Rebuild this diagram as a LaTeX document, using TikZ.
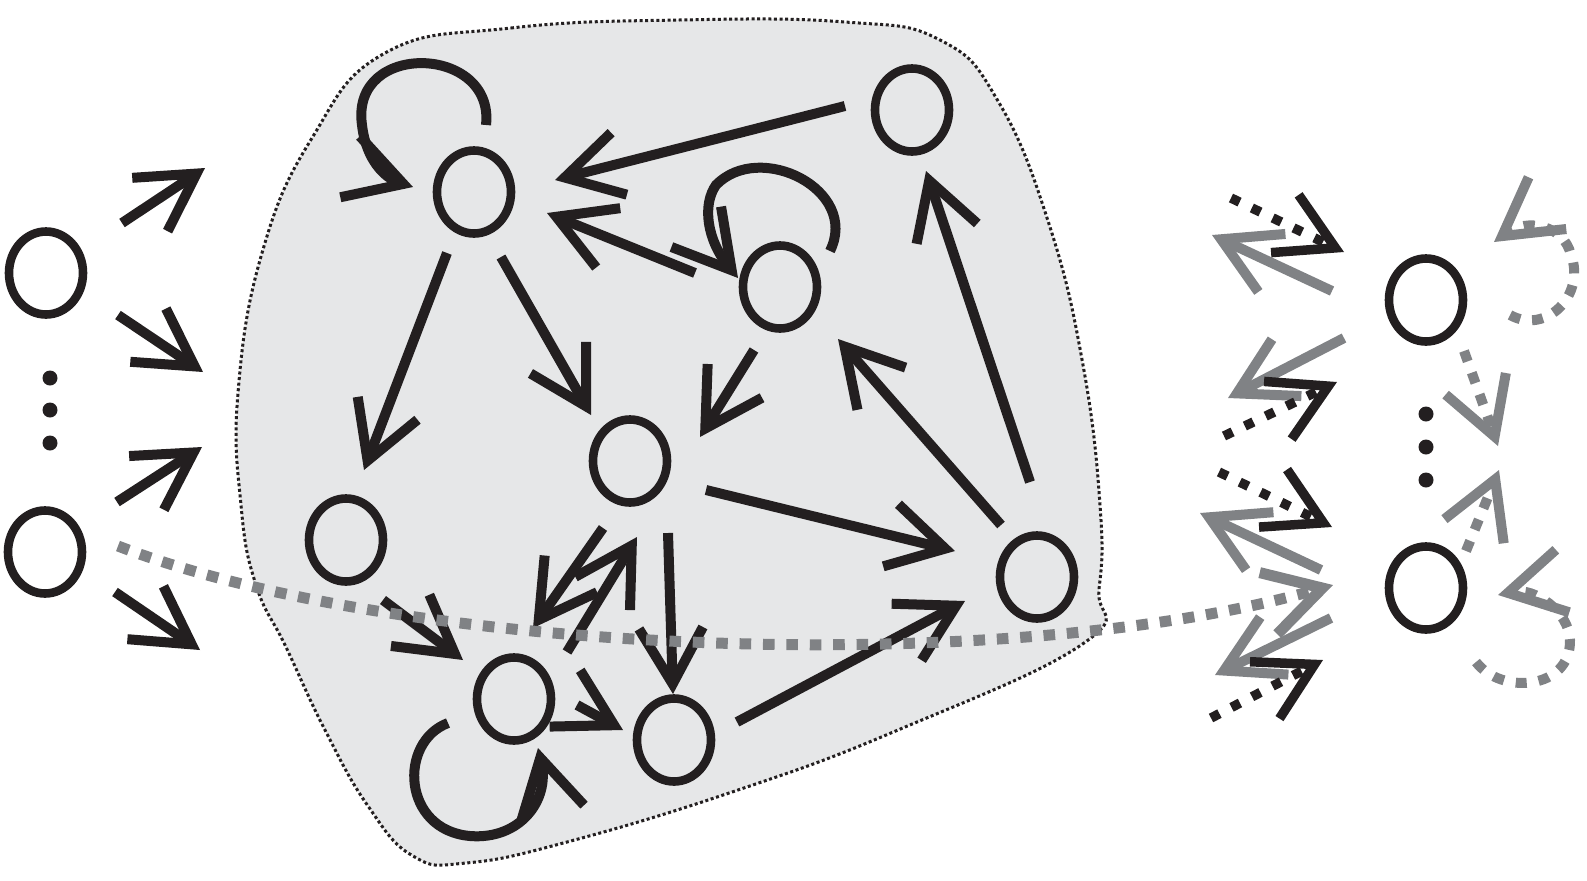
\documentclass[tikz,border=0pt]{standalone}
\usetikzlibrary{arrows.meta,calc,shapes.geometric}
\definecolor{ink}{HTML}{231F20}
\definecolor{mid}{HTML}{808285}
\definecolor{blobfill}{HTML}{E6E7E8}
\begin{document}
\begin{tikzpicture}[x=0.5pt,y=-0.5pt,
  circ/.style={draw=ink, line width=4.3pt, ellipse, minimum width=37pt, minimum height=41.5pt, inner sep=0pt},
  arr/.style={draw=ink, line width=5pt, -{Straight Barb[length=28pt,width=32pt,line join=miter,line cap=butt]}},
  garr/.style={draw=mid, line width=5pt, -{Straight Barb[length=28pt,width=32pt,line join=miter,line cap=butt]}},
  bdot/.style={draw=ink, line width=4.75pt, dash pattern=on 4.75pt off 6.8pt, -{Straight Barb[length=28pt,width=32pt,line join=miter,line cap=butt]}},
  gdash/.style={draw=mid, line width=5pt, dash pattern=on 5.5pt off 6pt, -{Straight Barb[length=28pt,width=32pt,line join=miter,line cap=butt]}},
  glong/.style={draw=mid, line width=5.5pt, dash pattern=on 5.8pt off 5.9pt, -{Straight Barb[length=28pt,width=32pt,line join=miter,line cap=butt]}},
  dotfill/.style={fill=ink}
]
\useasboundingbox (0,0) rectangle (1587,880);

% region
\draw[ink, line width=1.5pt, dash pattern=on 1.5pt off 1.3pt, fill=blobfill]
  plot[smooth cycle, tension=0.75] coordinates {
  (385,53) (511,28) (679,20) (845,22) (940,40) (998,101) (1049,224) (1083,365)
  (1100,505) (1099,589) (1084,643) (898,730) (735,791) (567,842) (466,863)
  (413,856) (368,806) (325,730) (286,647) (256,585) (241,505) (238,393)
  (262,253) (312,138)};

% left nodes
\node[circ] (L1) at (46,273) {};
\node[circ] (L2) at (45,552) {};
\fill[dotfill] (50,378) circle[radius=3.75pt];
\fill[dotfill] (50,410) circle[radius=3.75pt];
\fill[dotfill] (50,443) circle[radius=3.75pt];

% left input arrows
\coordinate (a1s) at (122,223); \coordinate (a1e) at (205,168);
\coordinate (a2s) at (118,315); \coordinate (a2e) at (203,372);
\coordinate (a3s) at (117,502); \coordinate (a3e) at (202,447);
\coordinate (a4s) at (115,592); \coordinate (a4e) at (200,650);
\draw[arr] (a1s) -- (a1e);
\draw[arr] (a2s) -- (a2e);
\draw[arr] (a3s) -- (a3e);
\draw[arr] (a4s) -- (a4e);

% central nodes
\node[circ] (A) at (474,192) {};
\node[circ] (B) at (912,110) {};
\node[circ] (C) at (780,287) {};
\node[circ] (D) at (630,461) {};
\node[circ] (E) at (346,540) {};
\node[circ] (F) at (1037,577) {};
\node[circ] (G) at (514,699) {};
\node[circ] (H) at (674,740) {};

% central edges
\draw[arr] ($(B)+(-67,-4)$) -- ($(A)+(81,-12)$);
\draw[arr] ($(C)+(-85,-14)$) -- ($(A)+(73,21)$);
\draw[arr] ($(A)+(-27,61)$) -- ($(E)+(18,-70)$);
\draw[arr] ($(A)+(27,65)$) -- ($(D)+(-39,-46)$);
\draw[arr] ($(C)+(-26,63)$) -- ($(D)+(70,-24)$);
\draw[arr] ($(F)+(-7,-95)$) -- ($(B)+(14,61)$);
\draw[arr] ($(F)+(-36,-52)$) -- ($(C)+(58,52)$);
\draw[arr] ($(D)+(76,29)$) -- ($(F)+(-82,-26)$);
\draw[arr] ($(H)+(63,-18)$) -- ($(F)+(-72,24)$);
\draw[arr] ($(E)+(37,60)$) -- ($(G)+(-51,-39)$);
\draw[arr] ($(G)+(63,6)$) -- ($(H)+(-51,-10)$);
\draw[arr] ($(D)+(38,72)$) -- ($(H)+(-1,-46)$);
\draw[arr] ($(D)+(-27,67)$) -- ($(G)+(19,-71)$);
\draw[arr] ($(G)+(53,-47)$) -- ($(D)+(7,76)$);

% self loops
\draw[arr] ($(A)+(12,-67)$) .. controls (495,45) and (350,40) .. (362,125)
  .. controls (366,160) and (385,178) .. (413,187);
\draw[arr] ($(C)+(50,-36)$) .. controls (860,190) and (760,140) .. (716,185)
  .. controls (702,205) and (707,240) .. (738,278);
\draw[arr] ($(G)+(-66,24)$) .. controls (398,742) and (402,830) .. (470,836)
  .. controls (520,840) and (550,800) .. (538,748);

% right side
\begin{scope}[xshift=-2pt]
\node[circ] (R1) at (1430,300) {};
\node[circ] (R2) at (1430,588) {};
\fill[dotfill] (1430,414) circle[radius=3.75pt];
\fill[dotfill] (1430,447) circle[radius=3.75pt];
\fill[dotfill] (1430,480) circle[radius=3.75pt];

\coordinate (b1s) at (1235,198); \coordinate (b1e) at (1348,252);
\coordinate (b2s) at (1228,436); \coordinate (b2e) at (1341,382);
\coordinate (b3s) at (1223,472); \coordinate (b3e) at (1336,527);
\coordinate (b4s) at (1215,718); \coordinate (b4e) at (1327,660);
\coordinate (g1s) at (1336,291); \coordinate (g1e) at (1216,235);
\coordinate (g2s) at (1348,338); \coordinate (g2e) at (1232,398);
\coordinate (g3s) at (1325,570); \coordinate (g3e) at (1204,513);
\coordinate (g5s) at (1335,618); \coordinate (g5e) at (1219,675);

\draw[garr] (g1s) -- (g1e);
\draw[garr] (g2s) -- (g2e);
\draw[garr] (g3s) -- (g3e);
\draw[garr] (g5s) -- (g5e);
\draw[bdot] (b1s) -- (b1e);
\draw[bdot] (b2s) -- (b2e);
\draw[bdot] (b3s) -- (b3e);
\draw[bdot] (b4s) -- (b4e);

\draw[gdash] ($(R1)+(38,51)$) -- ($(R1)+(72,146)$);
\draw[gdash] ($(R2)+(40,-37)$) -- ($(R2)+(73,-118)$);
\draw[gdash] ($(R1)+(84,15)$) .. controls (1550,335) and (1590,295) .. (1575,255)
  .. controls (1568,225) and (1531,218) .. (1498,242);
\draw[gdash] ($(R2)+(50,74)$) .. controls (1505,695) and (1575,690) .. (1574,640)
  .. controls (1573,612) and (1539,587) .. (1502,595);
\end{scope}

% long grey path
\coordinate (lend) at (1333,585);
\draw[glong] ($(L2)+(73,-6)$) .. controls (400,655) and (1000,680) .. (lend);
\end{tikzpicture}
\end{document}
